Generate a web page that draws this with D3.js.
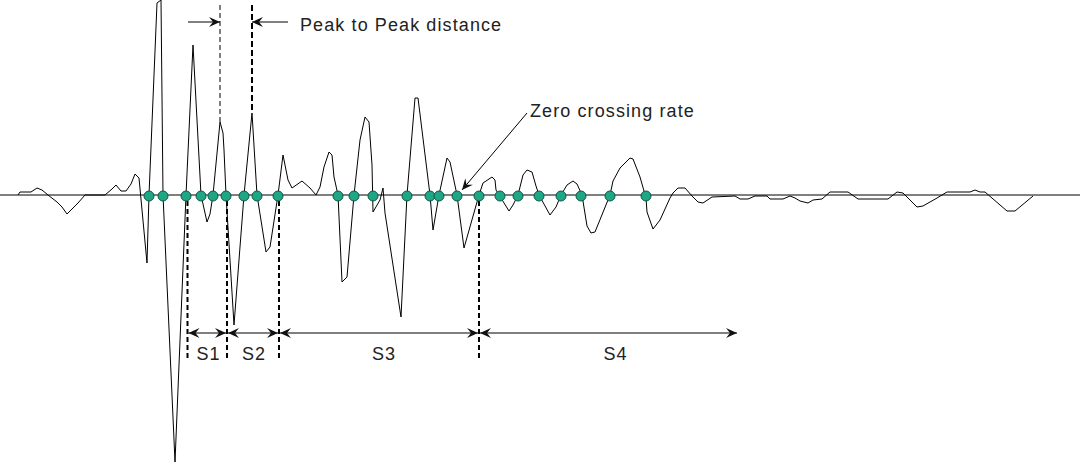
<!DOCTYPE html>
<html>
<head>
<meta charset="utf-8">
<script src="https://cdn.jsdelivr.net/npm/d3@7"></script>
<style>
  html, body { margin: 0; padding: 0; background: #fff; }
  svg { display: block; }
  text { font-family: "Liberation Sans", Arial, sans-serif; font-size: 18px; letter-spacing: 1.1px; fill: #222; }
</style>
</head>
<body>
<svg id="chart" width="1080" height="463"></svg>
<script>
// ---- data (time in samples, amplitude in arbitrary units) ----
const sampleTime = [18,20,31,37,42,48,57,62,67,72,78,85,105,112,116,121,126,131,135,139,147,149,157,161,163,175,186,193,201,207,210,213,220,223,224,226,234,244,252,257,266,270,278,283,288,292,302,310,316,320,324,329,332,334,338,342,347,354,360,365,369,372,373,380,383,385,401,407,415,418,430,433,439,447,450,457,464,479,483,492,495,496,509,513,518,523,527,532,536,539,550,556,561,567,573,577,582,587,591,595,610,613,620,630,633,640,646,647,653,660,670,673,678,685,692,698,703,712,735,740,748,755,767,770,783,790,795,800,808,813,822,830,848,858,888,897,903,917,923,937,947,970,975,980,985,1007,1015,1033];
const amplitude = [0,3,3,7,5,0,-7,-12,-19,-14,-8,0,0,6,10,4,4,11,21,17,-68,0,192,195,0,-267,0,150,0,-27,-19,0,73,62,45,0,-130,0,82,0,-57,-52,0,40,15,7,14,7,0,8,28,43,40,18,0,-87,-82,0,55,78,73,30,-17,-5,7,-18,-122,0,97,97,0,-35,0,37,33,0,-53,0,12,18,15,5,-16,-10,0,20,25,23,9,0,-20,-12,0,10,14,11,0,-31,-38,-37,0,14,27,37,36,18,-3,-17,-34,-25,-3,2,7,7,-1,-7,-8,-2,-1,-4,-4,-1,-1,-4,-4,-1,-3,-6,-8,-5,-4,3,3,-4,-4,3,2,-12,-11,-3,3,3,5,3,3,-16,-16,-1];

const zeroCrossings = [149,163,186,201,213,226,244,257,278,338,354,373,407,430,439,457,479,500,518,539,561,581,610,646];

const segmentBounds = [187.5,227,279,479,738];
const segmentLabels = ["S1","S2","S3","S4"];
const labelCenters = [208.5, 254, 384, 615.5];

const peakTimes = [220,252];
const peakAmps = [73,82];

const peakLabel = "Peak to Peak distance";
const zcrLabel = "Zero crossing rate";

// ---- scales ----
const W = 1080, H = 463;
const x = d3.scaleLinear().domain([0, 1080]).range([0, W]);
const y = d3.scaleLinear().domain([-268, 195]).range([H, 0]);

const svg = d3.select("#chart");

// markers
const defs = svg.append("defs");
defs.append("marker")
  .attr("id", "ah")
  .attr("markerUnits", "userSpaceOnUse")
  .attr("viewBox", "-12 -6 13 12")
  .attr("refX", 0).attr("refY", 0)
  .attr("markerWidth", 13).attr("markerHeight", 12)
  .attr("orient", "auto-start-reverse")
  .append("path")
  .attr("d", "M0,0 L-11,-5 L-7,0 L-11,5 Z")
  .attr("fill", "#111");

// zero line
svg.append("line")
  .attr("x1", 0).attr("x2", W)
  .attr("y1", y(0)).attr("y2", y(0))
  .attr("stroke", "#000").attr("stroke-width", 1);

// waveform
const pts = sampleTime.map((t, i) => [t, amplitude[i]]);
svg.append("path")
  .datum(pts)
  .attr("fill", "none")
  .attr("stroke", "#000")
  .attr("stroke-width", 1)
  .attr("d", d3.line().x(d => x(d[0])).y(d => y(d[1])));

// peak dashed lines
svg.selectAll(".peakline")
  .data(peakTimes)
  .enter().append("line")
  .attr("x1", d => x(d)).attr("x2", d => x(d))
  .attr("y1", y(190))
  .attr("y2", (d, i) => y(peakAmps[i]))
  .attr("stroke", "#000")
  .attr("stroke-width", (d, i) => i === 0 ? 1 : 2)
  .attr("stroke-dasharray", (d, i) => i === 0 ? "5,3" : "6,3");

// peak arrows
svg.append("line")
  .attr("x1", x(188)).attr("x2", x(peakTimes[0]))
  .attr("y1", y(173)).attr("y2", y(173))
  .attr("stroke", "#000").attr("marker-end", "url(#ah)");
svg.append("line")
  .attr("x1", x(288)).attr("x2", x(peakTimes[1]))
  .attr("y1", y(173)).attr("y2", y(173))
  .attr("stroke", "#000").attr("marker-end", "url(#ah)");
svg.append("text")
  .attr("x", x(300)).attr("y", y(164))
  .text(peakLabel);

// segment dashed lines
svg.selectAll(".segline")
  .data(segmentBounds.slice(0, 4))
  .enter().append("line")
  .attr("x1", d => x(d)).attr("x2", d => x(d))
  .attr("y1", y(-6)).attr("y2", y(-163))
  .attr("stroke", "#000")
  .attr("stroke-width", 2)
  .attr("stroke-dasharray", "5,3");

// segment arrows
segmentLabels.forEach((lab, i) => {
  const a = segmentBounds[i], b = segmentBounds[i + 1];
  svg.append("line")
    .attr("x1", x(a) + 1).attr("x2", x(b) - 1)
    .attr("y1", y(-138)).attr("y2", y(-138))
    .attr("stroke", "#000").attr("stroke-width", 1)
    .attr("marker-start", "url(#ah)")
    .attr("marker-end", "url(#ah)");
});
svg.selectAll(".seglabel")
  .data(segmentLabels)
  .enter().append("text")
  .attr("x", (d, i) => x(labelCenters[i]))
  .attr("y", y(-165))
  .attr("text-anchor", "middle")
  .text(d => d);

// zero crossing dots
svg.selectAll(".zc")
  .data(zeroCrossings)
  .enter().append("circle")
  .attr("cx", d => x(d))
  .attr("cy", y(0) + 1)
  .attr("r", 5)
  .attr("fill", "#1fa684")
  .attr("stroke", "#0d5a45")
  .attr("stroke-width", 1);

// zero crossing rate annotation
svg.append("line")
  .attr("x1", x(527)).attr("y1", y(82))
  .attr("x2", x(462)).attr("y2", y(5))
  .attr("stroke", "#000").attr("stroke-width", 1)
  .attr("marker-end", "url(#ah)");
svg.append("text")
  .attr("x", x(530)).attr("y", y(78))
  .text(zcrLabel);
</script>
</body>
</html>
